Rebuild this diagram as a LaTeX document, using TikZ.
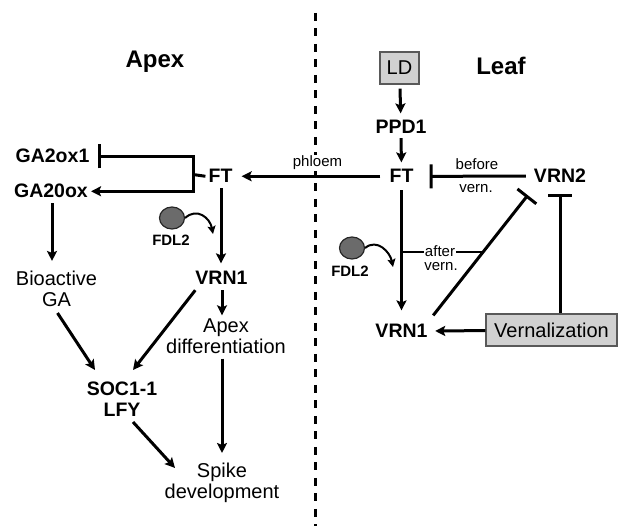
\documentclass[tikz,border=0pt]{standalone}
\usepackage{fontspec}
\setmainfont{Liberation Sans}
\usetikzlibrary{arrows.meta,calc,positioning,shapes.geometric}

\tikzset{
  gene/.style={font=\fontsize{19.5}{21}\selectfont\bfseries,inner sep=3pt,align=center},
  plain/.style={font=\fontsize{20}{21}\selectfont,inner sep=3pt,align=center},
  title/.style={font=\fontsize{24}{26}\selectfont\bfseries,inner sep=0pt},
  lbl/.style={font=\fontsize{15}{16}\selectfont,inner sep=1pt},
  cue/.style={draw=black!65,fill=black!18,line width=1.2pt,inner sep=0pt,
              font=\fontsize{20}{22}\selectfont,minimum height=32pt},
  fdl/.style={ellipse,draw=black!85,fill=black!58,line width=1.2pt,
              minimum width=25pt,minimum height=22pt,inner sep=0pt},
  act/.style={line width=3pt,-{Stealth[length=10pt,width=10pt,inset=2pt]}},
  inh/.style={line width=3pt,-{Bar[width=24pt]}},
  bind/.style={line width=2pt,-{Stealth[length=8pt,width=8pt,inset=1.5pt]}}
}

\begin{document}
\begin{tikzpicture}[x=1pt,y=-1pt]
  \useasboundingbox (0,0) rectangle (619,526);
  % apex / leaf divide
  \draw[line width=2.7pt,dash pattern=on 8pt off 7.5pt] (315.5,13) -- (315.5,526);
  \node[title,anchor=base] (apexT) at (155,68) {Apex};
  \node[title,anchor=base] (leafT) at (501,75) {Leaf};

  % leaf side
  \node[cue,minimum width=39pt] (ld) at (399.5,68) {LD};
  \node[gene,anchor=base] (ppd1) at (401,134) {PPD1};
  \node[gene,anchor=base] (ftL) at (401.5,183) {FT};
  \node[gene,anchor=base] (vrn2) at (560,183) {VRN2};
  \node[gene,anchor=base] (vrn1L) at (401.5,338) {VRN1};
  \node[cue,minimum width=131pt] (vern) at (551.5,330) {Vernalization};
  \node[fdl] (fdlL) at (352,248) {};
  \node[gene,font=\fontsize{15}{16}\selectfont\bfseries,anchor=base] (fdlLt) at (350,277) {FDL2};

  % apex side
  \node[gene,anchor=base] (ftA) at (220.5,183) {FT};
  \node[gene,anchor=base] (ga2ox1) at (52.5,163) {GA2ox1};
  \node[gene,anchor=base] (ga20ox) at (51,198) {GA20ox};
  \node[plain] (bioGA) at (56.5,289) {Bioactive\\GA};
  \node[gene,anchor=base] (vrn1A) at (221.5,285) {VRN1};
  \node[plain] (apexDiff) at (226,336) {Apex\\differentiation};
  \node[gene] (soc) at (122,399.5) {SOC1-1\\LFY};
  \node[plain] (spike) at (222,483) {Spike\\development};
  \node[fdl] (fdlA) at (172,218) {};
  \node[gene,font=\fontsize{15}{16}\selectfont\bfseries,anchor=base] (fdlAt) at (171,246) {FDL2};
  \coordinate (brk) at (193,174.5);

  % leaf connectors
  \draw[act,shorten <=4pt,shorten >=4pt] (ld) -- (ppd1);
  \draw[act,shorten <=1pt,shorten >=4pt] (ppd1) -- (ftL);
  \draw[act,shorten <=6pt,shorten >=6pt] (ftL) -- (ftA);
  \node[lbl,fill=white,anchor=base] (phl) at (317.5,167) {phloem};
  \draw[inh,shorten <=5pt,shorten >=13pt] (vrn2) -- (ftL);
  \node[lbl,anchor=base] (bef) at (477,170) {before};
  \node[lbl,anchor=base] (befv) at (476,193) {vern.};
  \draw[act,shorten <=4pt,shorten >=11pt] (ftL.south) -- (ftL.south |- vrn1L.north);
  \draw[inh] ($(vrn1L.north east)+(2.5,-6)$) -- ($(vrn2.south west)+(-3,9)$);
  \draw[inh] ($(vern.north)+(8.5,0)$) -- ($(vrn2.south)+(0,8)$);
  \draw[act,shorten >=4.5pt] (vern) -- (vrn1L);
  \coordinate (aftA) at (401.5,252);
  \coordinate (aftB) at (483.5,252);
  \draw[line width=1.2pt] (aftA) -- (aftB);
  \node[lbl,fill=white,anchor=base] (aft) at (440,256.5) {after};
  \node[lbl,anchor=base] (aftv) at (441,270.5) {vern.};
  \draw[bind] (fdlL.east) .. controls (377,238) and (390,252) .. (393,267);

  % apex connectors
  \draw[line width=3pt] (ftA.west) -- (brk);
  \draw[line width=3pt,{Bar[width=24pt]}-{Stealth[length=10pt,width=10pt,inset=2pt]},
        shorten <=5pt] (ga2ox1.east) -| (brk) |- (ga20ox.east);
  \draw[act,shorten <=2pt,shorten >=7pt] (ga20ox.south -| 52,0) -- (bioGA.north -| 52,0);
  \draw[act,shorten <=2pt,shorten >=5pt] (ftA.south -| 221,0) -- (vrn1A.north -| 221,0);
  \draw[act,shorten <=2pt] (vrn1A.south -| 222,0) -- (apexDiff.north -| 222,0);
  \draw[act,shorten <=2pt,shorten >=7pt] (apexDiff.south -| 222,0) -- (spike.north -| 222,0);
  \draw[act] ($(bioGA.south)+(1,3)$) -- ($(soc.north)+(-27,-9)$);
  \draw[act] ($(vrn1A.south west)+(3,2)$) -- ($(soc.north)+(11,-9)$);
  \draw[act] ($(soc.south)+(11,2)$) -- ($(spike.north)+(-47,8)$);
  \draw[bind] (fdlA.east) .. controls (197,207) and (210,218) .. (213,234);
\end{tikzpicture}
\end{document}
